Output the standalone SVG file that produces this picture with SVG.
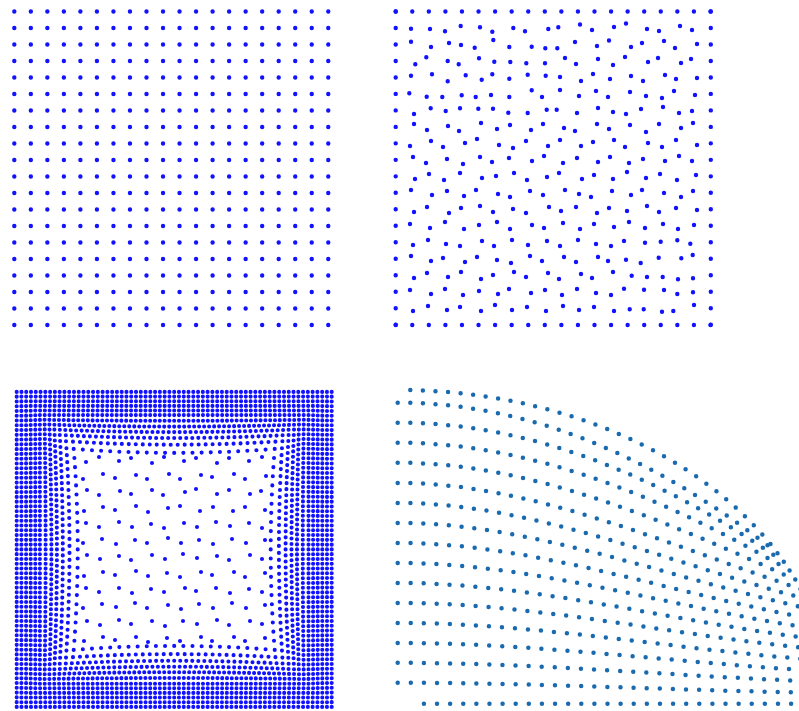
<svg xmlns="http://www.w3.org/2000/svg" width="799" height="711" viewBox="0 0 799 711">
<style>
.d{fill:none;stroke:#1212ff;stroke-width:4.4;stroke-linecap:round;stroke-dasharray:0 1}
.j{fill:none;stroke:#1212ff;stroke-width:4.4;stroke-linecap:round}
.m{stroke-width:4.1}
.t{stroke:#1a6ab0;stroke-width:4.5}
</style>
<rect width="799" height="711" fill="#ffffff"/>
<g id="grid-regular">
<path class="d" pathLength="19.02" d="M14.3 11.5H328.6"/>
<path class="d" pathLength="19.02" d="M14.3 28H328.6"/>
<path class="d" pathLength="19.02" d="M14.3 44.5H328.6"/>
<path class="d" pathLength="19.02" d="M14.3 61H328.6"/>
<path class="d" pathLength="19.02" d="M14.3 77.5H328.6"/>
<path class="d" pathLength="19.02" d="M14.3 94H328.6"/>
<path class="d" pathLength="19.02" d="M14.3 110.5H328.6"/>
<path class="d" pathLength="19.02" d="M14.3 127H328.6"/>
<path class="d" pathLength="19.02" d="M14.3 143.5H328.6"/>
<path class="d" pathLength="19.02" d="M14.3 160H328.6"/>
<path class="d" pathLength="19.02" d="M14.3 176.5H328.6"/>
<path class="d" pathLength="19.02" d="M14.3 193H328.6"/>
<path class="d" pathLength="19.02" d="M14.3 209.5H328.6"/>
<path class="d" pathLength="19.02" d="M14.3 226H328.6"/>
<path class="d" pathLength="19.02" d="M14.3 242.5H328.6"/>
<path class="d" pathLength="19.02" d="M14.3 259H328.6"/>
<path class="d" pathLength="19.02" d="M14.3 275.5H328.6"/>
<path class="d" pathLength="19.02" d="M14.3 292H328.6"/>
<path class="d" pathLength="19.02" d="M14.3 308.5H328.6"/>
<path class="d" pathLength="19.02" d="M14.3 325H328.6"/>
</g>
<g id="grid-perturbed">
<path class="d" pathLength="19.02" d="M395.7 11.5H710.8"/>
<path class="d" pathLength="19.02" d="M395.7 325H710.8"/>
<path class="d" pathLength="19.02" d="M395.7 11.5V325"/>
<path class="d" pathLength="19.02" d="M710.8 11.5V325"/>
<path class="j" d="M411 28.7h0M430 29h0M445 31.3h0M460.7 26h0M480 27.3h0M492.3 31.7h0M513.3 28h0M525 31.3h0M548.3 29h0M558.3 27.3h0M580 24.5h0M592 30h0M614 27h0M626 23.5h0M647 29h0M659 31h0M680 26h0M692 30h0
M411 41.7h0M431 47h0M449 43h0M461 45h0M474.7 47.7h0M493.3 40h0M509.3 47h0M531.7 46.7h0M545.3 48.3h0M557.3 48.3h0M575 42h0M597 46h0M609 40.5h0M631 47h0M642 43h0M664 41h0M675 48h0M697 44h0
M415.3 64.3h0M426.3 57.3h0M447.7 61h0M458.7 64.3h0M479 58.3h0M494.3 61.7h0M510.3 62h0M526.3 63.3h0M545 63.3h0M565 58h0M576 64h0M598 59h0M613 65h0M625 57h0M648 62h0M658 58h0M681 63h0M691 59h0
M411 75.7h0M432 74.3h0M447.7 81.3h0M465.7 75.3h0M481.7 79.7h0M492.3 74.3h0M509.3 78.7h0M527.7 74.7h0M545.7 75.7h0M560 77h0M581 81h0M593 74h0M610 79h0M631 76h0M643 81h0M665 75h0M676 79h0M697 78h0
M409.3 93.3h0M426.7 96.7h0M442.3 97h0M461.7 95.3h0M475.7 97h0M491 95h0M509.3 97h0M531.7 90.3h0M542 97h0M560 90h0M579 96h0M596 91h0M608 97h0M630 92h0M646 96h0M662 98h0M674 91h0M695 95h0
M414 114h0M430.7 108.3h0M445.7 111h0M460 108.3h0M478.3 108.7h0M493 108.7h0M508.3 112.7h0M527.7 113h0M546.7 109.7h0M556.7 109.7h0M577 113h0M598 108h0M613 112h0M626 114h0M641 109h0M663 107h0M679 113h0M692 111h0
M414 124h0M427 130h0M448 126h0M459 131h0M481 123h0M497 129h0M510 125h0M531 130h0M543 124h0M564 128h0M575 131h0M597 124h0M609 129h0M630 125h0M646 132h0M659 124h0M681 128h0M693 123h0
M410 146h0M431 141h0M443 147h0M465 143h0M477 139h0M499 145h0M513 148h0M526 141h0M548 146h0M560 140h0M581 146h0M593 142h0M614 140h0M625 147h0M648 143h0M662 147h0M676 140h0M697 145h0
M413 157h0M426 163h0M447 159h0M463 164h0M480 157h0M492 162h0M509 158h0M532 161h0M544 156h0M563 163h0M577 158h0M598 162h0M610 157h0M629 163h0M643 159h0M665 161h0M679 156h0M692 161h0
M415 179h0M429 174h0M444 180h0M460 173h0M482 178h0M496 176h0M514 173h0M527 180h0M547 177h0M559 173h0M582 179h0M594 175h0M613 179h0M627 172h0M646 178h0M660 174h0M677 180h0M696 175h0
M411 190h0M432 195h0M447 191h0M464 196h0M476 190h0M498 194h0M510 197h0M530 191h0M543 195h0M565 190h0M579 194h0M591 197h0M612 191h0M631 195h0M642 190h0M664 193h0M681 197h0M693 191h0
M414 212h0M427 207h0M449 213h0M461 208h0M480 206h0M493 212h0M513 209h0M526 213h0M549 207h0M561 211h0M576 207h0M597 213h0M609 208h0M627 211h0M647 206h0M659 212h0M676 208h0M697 210h0
M410 224h0M430 228h0M445 222h0M464 229h0M479 225h0M497 222h0M510 229h0M532 225h0M544 228h0M563 223h0M580 229h0M594 224h0M614 227h0M629 222h0M645 228h0M663 224h0M678 229h0M694 225h0
M413 245h0M428 240h0M446 244h0M460 246h0M482 241h0M494 246h0M512 240h0M528 245h0M547 241h0M560 246h0M578 240h0M596 244h0M611 246h0M624 241h0M645 242.7h0M660.7 241.7h0M677.3 240.3h0M690.3 243.7h0
M411 256h0M431 261h0M443 258h0M465 262h0M477 257h0M497 260h0M511 263h0M530 256h0M542 261h0M564 257h0M576 262h0M598 257h0M608 261h0M626 259.7h0M640.7 263h0M658.7 257.7h0M681.3 258.3h0M692.7 255h0
M414 278h0M427 273h0M448 277h0M461 272h0M481 279h0M493 275h0M514 272h0M526 277h0M548 273h0M559 279h0M581 274h0M592 278h0M613 272h0M631.7 275.7h0M647 277h0M662.7 277h0M678 279.3h0M693 278.3h0
M410 290h0M431 294h0M445 289h0M463 295h0M479 291h0M498 294h0M509 289h0M531 293h0M545 290h0M562 295h0M577 289h0M596 293h0M611 295h0M624 288.7h0M644 289.7h0M664 290h0M677.3 294h0M693 292.3h0
M413 311h0M428 306h0M447 310h0M460 307h0M481 311h0M495 305h0M512 310h0M527 307h0M546 311h0M563 306h0M579 310h0M594 307h0M614 311h0M629.7 309.3h0M643.7 309.3h0M662 311.7h0M673.3 311h0M694 305h0"/>
</g>
<g id="mesh-square">
<path class="d m" pathLength="264" d="M16.7 391.9h315v315h-315z"/>
<path class="d m" pathLength="256" d="M21.4 396.6h305.6v305.6h-305.6z"/>
<path class="d m" pathLength="248" d="M26.1 401.3h296.2v296.2h-296.2z"/>
<path class="d m" pathLength="240" d="M30.7 405.9h287v287h-287z"/>
<path class="d m" pathLength="232" d="M35.3 410.5h277.8v277.8h-277.8z"/>
<path class="d m" pathLength="224" d="M39.9 415.1h268.6v268.6h-268.6z"/>
<path class="d m" pathLength="216" d="M44.6 419.8Q174.2 421.8 303.8 419.8Q301.8 549.4 303.8 679Q174.2 677 44.6 679Q46.6 549.4 44.6 419.8z"/>
<path class="d m" pathLength="200" d="M49.4 424.6Q174.2 428.6 299 424.6Q295 549.4 299 674.2Q174.2 670.2 49.4 674.2Q53.4 549.4 49.4 424.6z"/>
<path class="d m" pathLength="176" d="M54.4 429.6Q174.2 434.6 294 429.6Q289 549.4 294 669.2Q174.2 664.2 54.4 669.2Q59.4 549.4 54.4 429.6z"/>
<path class="d m" pathLength="152" d="M59.8 435Q174.2 441 288.6 435Q282.6 549.4 288.6 663.8Q174.2 657.8 59.8 663.8Q65.8 549.4 59.8 435z"/>
<path class="d m" pathLength="124" d="M66 441.2Q174.2 448.2 282.4 441.2Q275.4 549.4 282.4 657.6Q174.2 650.6 66 657.6Q73 549.4 66 441.2z"/>
<path class="d m" pathLength="88" d="M73.7 448.9Q174.2 456.9 274.7 448.9Q266.7 549.4 274.7 649.9Q174.2 641.9 73.7 649.9Q81.7 549.4 73.7 448.9z"/>
<path class="j m" d="M86 462h0M99 457h0M119 461h0M131 458h0M152 463h0M164 457h0M184 461h0M196 458h0M217 463h0M229 458h0M249 461h0M262 457h0
M83 479h0M103 474h0M115 478h0M136 475h0M147 479h0M169 474h0M180 479h0M201 475h0M212 477h0M234 474h0M245 479h0M266 476h0
M87 490h0M99 495h0M120 491h0M131 494h0M152 490h0M163 495h0M185 492h0M196 489h0M217 494h0M229 490h0M250 494h0M261 491h0
M84 511h0M103 507h0M115 510h0M136 506h0M148 512h0M168 508h0M180 506h0M200 511h0M213 507h0M233 511h0M245 507h0M265 510h0
M86 523h0M99 527h0M119 522h0M132 527h0M151 524h0M164 528h0M184 523h0M197 527h0M216 522h0M230 526h0M249 523h0M262 528h0
M83 543h0M102 539h0M116 544h0M135 540h0M147 543h0M168 538h0M181 543h0M199 540h0M213 544h0M232 539h0M246 543h0M265 540h0
M87 555h0M100 559h0M119 556h0M131 560h0M152 555h0M165 559h0M183 554h0M197 558h0M217 556h0M229 560h0M250 555h0M262 559h0
M84 576h0M103 572h0M115 575h0M136 571h0M148 576h0M167 573h0M180 577h0M201 572h0M212 575h0M234 572h0M245 577h0M265 573h0
M86 588h0M99 592h0M119 588h0M132 593h0M151 589h0M164 592h0M185 588h0M196 591h0M216 588h0M230 593h0M249 589h0M262 592h0
M83 608h0M102 604h0M116 607h0M135 603h0M147 608h0M168 605h0M181 609h0M199 604h0M213 608h0M232 603h0M246 608h0M265 605h0
M87 621h0M100 625h0M119 620h0M131 624h0M152 621h0M165 626h0M183 621h0M197 624h0M217 620h0M229 625h0M250 621h0M262 624h0
M84 641h0M103 637h0M115 640h0M136 637h0M148 642h0M167 638h0M180 641h0M201 637h0M212 641h0M234 637h0M245 641h0M265 638h0"/>
</g>
<g id="mesh-quarter-disk">
<path class="d t" pathLength="32.02" d="M410.3 390.1A433 313.7 0 0 1 770.6 544.2"/>
<path class="d t" pathLength="33.02" d="M397.7 402.7C524.4 402.7 651 452.9 777.7 553.3"/>
<path class="d t" pathLength="33.02" d="M397.7 422.7C526.5 422.7 655.2 472.4 784 562"/>
<path class="d t" pathLength="33.02" d="M397.7 442.7C528.4 442.7 659.1 494.7 789.8 570.6"/>
<path class="d t" pathLength="33.02" d="M397.7 462.7C530.3 462.7 662.9 519.7 795.5 579.7"/>
<path class="d t" pathLength="33.02" d="M397.7 482.9C532.1 482.9 666.4 544.2 800.8 589.1"/>
<path class="d t" pathLength="33.02" d="M397.7 502.9C533.7 502.9 669.8 563.3 805.8 598.9"/>
<path class="d t" pathLength="33.02" d="M397.7 522.9C535.3 522.9 672.9 579.9 810.5 608.9"/>
<path class="d t" pathLength="33.02" d="M397.7 542.9C536.7 542.9 675.6 595.5 814.6 619"/>
<path class="d t" pathLength="33.02" d="M397.7 562.9C537.9 562.9 678.1 610 818.3 629"/>
<path class="d t" pathLength="33.02" d="M397.7 582.9C539 582.9 680.3 624.1 821.6 639.5"/>
<path class="d t" pathLength="33.02" d="M397.7 602.9C539.9 602.9 682 637.6 824.2 649.7"/>
<path class="d t" pathLength="33.02" d="M397.7 622.9C540.7 622.9 683.6 651.2 826.6 660.6"/>
<path class="d t" pathLength="33.02" d="M397.7 642.9C541.3 642.9 684.8 664.2 828.4 671.3"/>
<path class="d t" pathLength="33.02" d="M397.7 662.8C541.7 662.8 685.7 677.2 829.7 682"/>
<path class="d t" pathLength="33.02" d="M397.7 682.7C541.9 682.7 686.2 691.1 830.4 692.9"/>
<path class="d t" pathLength="31.02" d="M423.9 703.7H830.7"/>
</g>
</svg>
